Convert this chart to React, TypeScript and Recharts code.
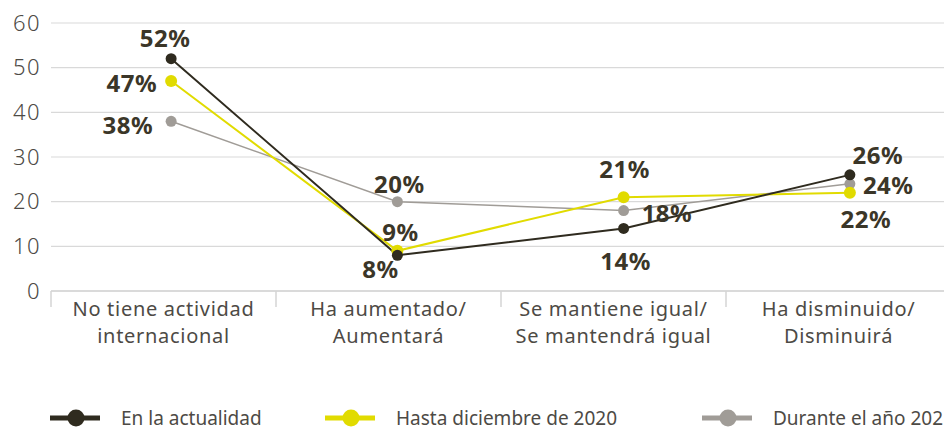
import { LineChart, Line, XAxis, YAxis, CartesianGrid, LabelList } from 'recharts';

// Categories (two lines each, as drawn under the axis)
const categoryLines = [
  ['No tiene actividad', 'internacional'],
  ['Ha aumentado/', 'Aumentará'],
  ['Se mantiene igual/', 'Se mantendrá igual'],
  ['Ha disminuido/', 'Disminuirá'],
];
const categories = categoryLines.map((l) => l.join(' '));

// Series values (%)
const enLaActualidad = [52, 8, 14, 26];
const hastaDiciembre2020 = [47, 9, 21, 22];
const duranteAno2021 = [38, 20, 18, 24];

const yTicks = [0, 10, 20, 30, 40, 50, 60];

const data = categories.map((name, i) => ({
  name,
  actual: enLaActualidad[i],
  hasta2020: hastaDiciembre2020[i],
  durante2021: duranteAno2021[i],
}));

const DARK = '#2f2b1f';
const YELLOW = '#e1db00';
const GRAY = '#a09c97';
const TEXT = '#3b3628';
const AXIS_TEXT = '#4d4a45';
const FONT = '"Noto Sans", "DejaVu Sans", sans-serif';

const CHART_W = 960;
const CHART_H = 430;
const Y_AXIS_W = 51;
const MARGIN = { top: 23, right: 9, bottom: 79, left: 0 };
const BAND = (CHART_W - MARGIN.left - MARGIN.right - Y_AXIS_W) / categories.length;

// label placement per point: [dx, dy, anchor]
type Place = [number, number, 'start' | 'middle' | 'end'];
const placeActual: Place[] = [[-6, -21, 'middle'], [-17, 13, 'middle'], [2, 32, 'middle'], [28, -20, 'middle']];
const placeHasta: Place[] = [[-14, 1, 'end'], [3, -19, 'middle'], [1, -29, 'middle'], [16, 26, 'middle']];
const placeDurante: Place[] = [[-18, 3, 'end'], [2, -18, 'middle'], [18, 2, 'start'], [13, 1, 'start']];

const makeLabel = (places: Place[]) => (props: any) => {
  const { x, y, value, index } = props;
  const [dx, dy, anchor] = places[index];
  return (
    <text
      x={x + dx}
      y={y + dy}
      textAnchor={anchor}
      dominantBaseline="central"
      fill={TEXT}
      fontFamily={FONT}
      fontWeight={700}
      fontSize={24}
      letterSpacing={0.5}
    >
      {`${value}%`}
    </text>
  );
};

const CategoryTick = (props: any) => {
  const { x, y, index } = props;
  const lines = categoryLines[index] || [];
  return (
    <g>
      <line x1={x - BAND / 2} x2={x - BAND / 2} y1={y} y2={y + 16} stroke="#d4d4d4" strokeWidth={1.5} />
      {lines.map((t, i) => (
        <text
          key={i}
          x={x}
          y={y + 17 + i * 27}
          textAnchor="middle"
          dominantBaseline="central"
          fill={AXIS_TEXT}
          fontFamily={FONT}
          fontSize={20}
          letterSpacing={0.7}
        >
          {t}
        </text>
      ))}
    </g>
  );
};

const legendItems = [
  { label: 'En la actualidad', color: DARK, left: 50 },
  { label: 'Hasta diciembre de 2020', color: YELLOW, left: 325 },
  { label: 'Durante el año 2021', color: GRAY, left: 702 },
];

export default function App() {
  return (
    <div style={{ position: 'absolute', left: 0, top: 0, width: 944, height: 430, overflow: 'hidden', background: '#fff' }}>
      <LineChart width={CHART_W} height={CHART_H} data={data} margin={MARGIN}>
        <CartesianGrid vertical={false} stroke="#d9d9d9" strokeWidth={1.2} />
        <YAxis
          domain={[0, 60]}
          ticks={yTicks}
          width={Y_AXIS_W}
          axisLine={false}
          tickLine={false}
          tickSize={0}
          tickMargin={10}
          tick={{ fill: AXIS_TEXT, fontSize: 22, fontFamily: FONT, fontWeight: 300, letterSpacing: 1.5 }}
        />
        <XAxis
          dataKey="name"
          scale="band"
          height={60}
          tickLine={false}
          tickSize={0}
          tickMargin={0}
          axisLine={{ stroke: '#d4d4d4', strokeWidth: 1.5 }}
          tick={<CategoryTick />}
          interval={0}
        />
        <XAxis xAxisId="pt" dataKey="name" scale="band" hide padding={{ left: 7, right: -12 }} />
        <Line
          xAxisId="pt"
          dataKey="durante2021"
          stroke={GRAY}
          strokeWidth={1.5}
          dot={{ r: 5.5, fill: GRAY, stroke: GRAY, strokeWidth: 0 }}
          activeDot={false}
          isAnimationActive={false}
        >
          <LabelList dataKey="durante2021" content={makeLabel(placeDurante)} />
        </Line>
        <Line
          xAxisId="pt"
          dataKey="hasta2020"
          stroke={YELLOW}
          strokeWidth={2}
          dot={{ r: 6, fill: YELLOW, stroke: YELLOW, strokeWidth: 0 }}
          activeDot={false}
          isAnimationActive={false}
        >
          <LabelList dataKey="hasta2020" content={makeLabel(placeHasta)} />
        </Line>
        <Line
          xAxisId="pt"
          dataKey="actual"
          stroke={DARK}
          strokeWidth={2}
          dot={{ r: 5.5, fill: DARK, stroke: DARK, strokeWidth: 0 }}
          activeDot={false}
          isAnimationActive={false}
        >
          <LabelList dataKey="actual" content={makeLabel(placeActual)} />
        </Line>
      </LineChart>
      {legendItems.map((it) => (
        <div
          key={it.label}
          style={{
            position: 'absolute',
            left: it.left,
            top: 408,
            height: 20,
            lineHeight: '20px',
            display: 'flex',
            alignItems: 'center',
            fontFamily: FONT,
            fontSize: 19,
            color: AXIS_TEXT,
            whiteSpace: 'nowrap',
          }}
        >
          <svg width={50} height={20} style={{ marginRight: 21 }}>
            <line x1={0} x2={50} y1={10} y2={10} stroke={it.color} strokeWidth={5} />
            <circle cx={26} cy={10} r={8.5} fill={it.color} />
          </svg>
          <span>{it.label}</span>
        </div>
      ))}
    </div>
  );
}
